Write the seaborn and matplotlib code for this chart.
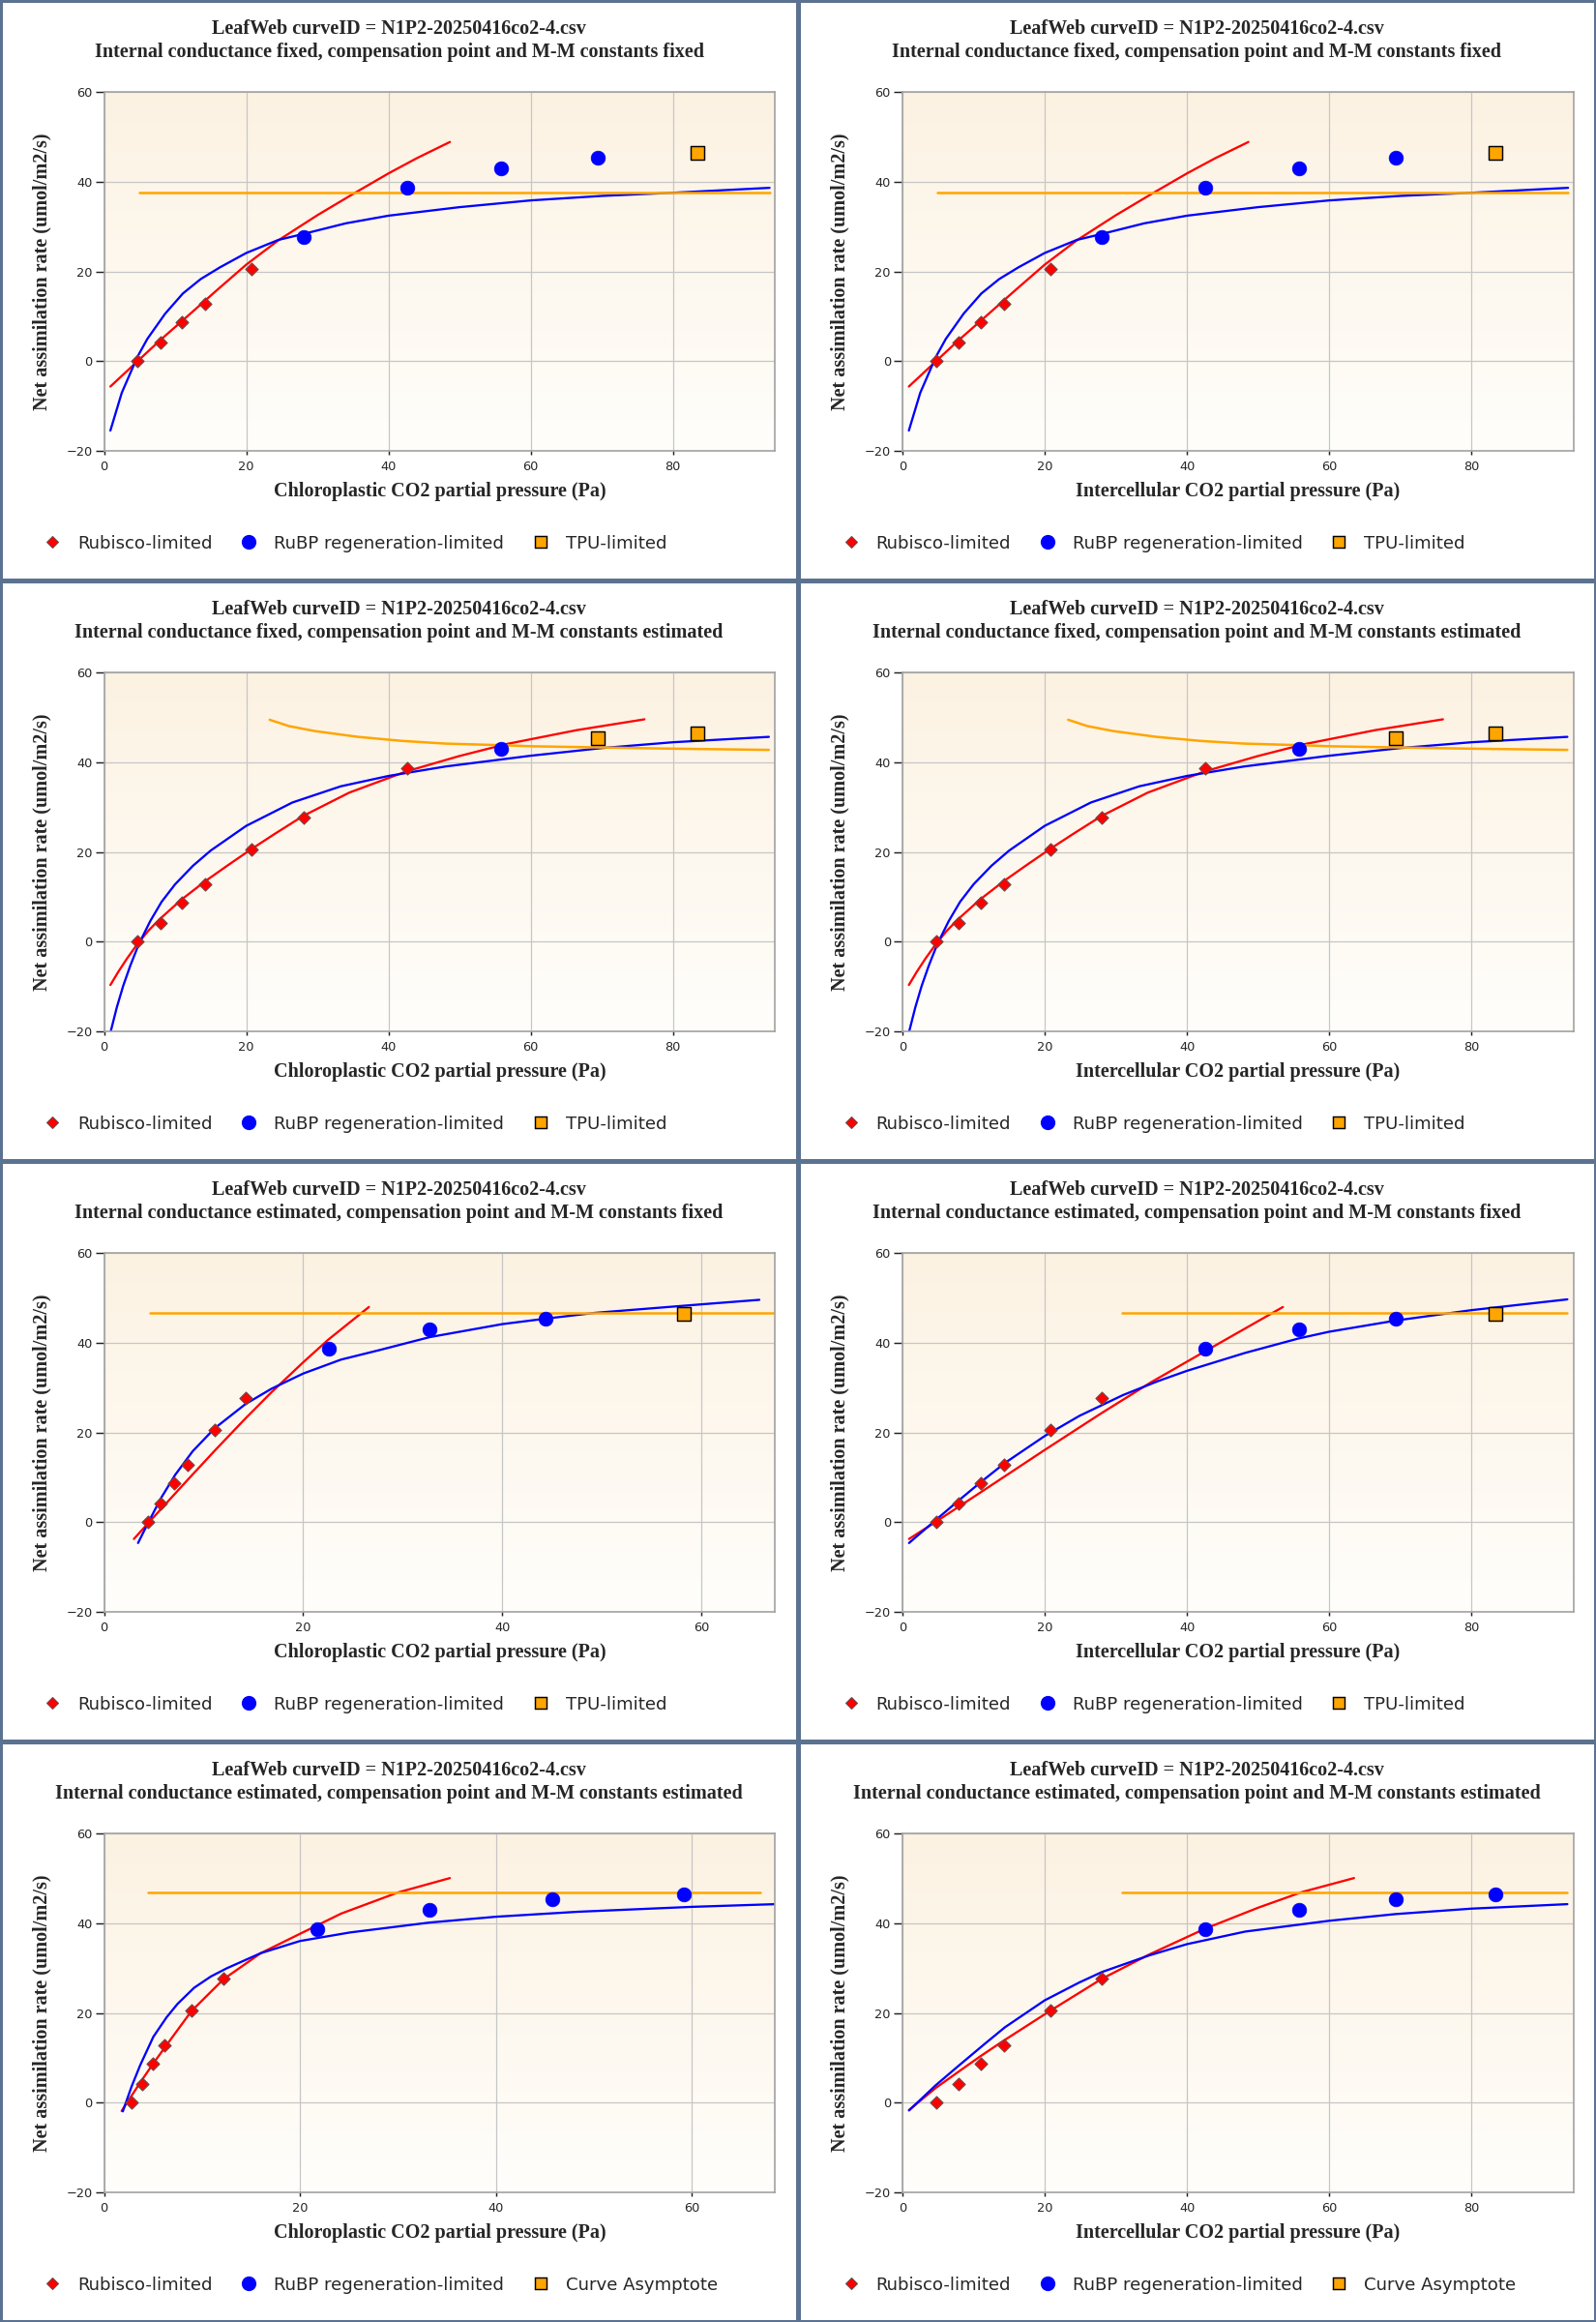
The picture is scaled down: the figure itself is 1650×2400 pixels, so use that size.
import numpy as np
import matplotlib
matplotlib.use("Agg")
import matplotlib.pyplot as plt
from matplotlib.lines import Line2D
from matplotlib.colors import LinearSegmentedColormap
import seaborn as sns

# measured points (same A for every panel, x differs with the fit)
a_obs = [0.0, 4.2, 8.65, 12.8, 20.6, 27.7, 38.6, 42.9, 45.3, 46.3]
ci_obs = [4.7, 7.9, 10.95, 14.25, 20.8, 28.05, 42.6, 55.8, 69.4, 83.4]
cc_gm_est = [4.39, 5.7, 7.07, 8.38, 11.1, 14.2, 22.6, 32.7, 44.3, 58.25]
cc_all_est = [2.85, 3.88, 4.95, 6.2, 8.92, 12.2, 21.8, 33.2, 45.7, 59.2]

# fitted curves
# gi fixed, Gamma*/M-M fixed (Cc and Ci panels are identical)
rub1_x = [0.9, 4.7, 7.9, 12, 16, 20, 24.5, 30, 35.2, 40, 44, 48.65]
rub1_y = [-5.6, 0, 4.7, 10.4, 16.0, 21.5, 26.9, 32.5, 37.4, 41.8, 45.2, 48.8]
rubp1_x = [0.9, 2.5, 4.7, 6.1, 8.6, 11.1, 13.6, 16.3, 20, 24.5, 28.2, 34, 40, 50, 60, 70, 80, 93.6]
rubp1_y = [-15.4, -7.0, 1.0, 5.0, 10.6, 15.1, 18.3, 20.9, 24.1, 27.0, 28.4, 30.7, 32.4, 34.3, 35.8, 36.8, 37.5, 38.6]
tpu1_x = [4.9, 93.6]
tpu1_y = [37.5, 37.5]

# gi fixed, Gamma*/M-M estimated
rub3_x = [0.9, 2.0, 3.2, 4.6, 6.2, 7.8, 10.9, 14.25, 17.3, 20.7, 24, 28.0, 34.5, 42.5, 49.9, 56.6, 66.5, 76.0]
rub3_y = [-9.6, -6.7, -3.8, -0.7, 2.4, 5.0, 9.4, 13.5, 16.9, 20.6, 24.0, 28.0, 33.2, 37.9, 41.3, 44.0, 47.1, 49.5]
rubp3_x = [0.92, 1.8, 2.7, 3.7, 4.9, 6.5, 8.1, 10, 12.5, 15, 20, 26.5, 33.3, 40, 48, 60, 70, 80, 93.5]
rubp3_y = [-20.1, -14.6, -9.8, -5.3, -0.5, 4.6, 8.9, 12.8, 16.9, 20.3, 25.8, 31.0, 34.6, 36.9, 39.0, 41.4, 43.1, 44.4, 45.6]
tpu3_x = [23.3, 26.0, 29.6, 35.7, 41.9, 48.0, 55.8, 60.3, 69.5, 78.7, 93.5]
tpu3_y = [49.4, 48.0, 46.9, 45.6, 44.7, 44.1, 43.75, 43.5, 43.25, 43.0, 42.7]

# gi estimated, Gamma*/M-M fixed, chloroplastic
rub5_x = [3.0, 4.39, 5.7, 8.38, 11.1, 14.2, 16.8, 20.0, 22.5, 26.6]
rub5_y = [-3.7, -0.3, 2.9, 9.4, 15.9, 23.1, 28.9, 35.6, 40.6, 47.9]
rubp5_x = [3.42, 4.39, 5.7, 7.16, 8.9, 11.1, 14.2, 16.8, 20.0, 23.8, 27.8, 32.7, 40.0, 44.3, 49.3, 60, 65.8]
rubp5_y = [-4.6, -0.3, 5.3, 10.6, 15.8, 20.9, 26.3, 29.7, 33.1, 36.2, 38.4, 41.2, 44.1, 45.3, 46.6, 48.5, 49.5]
tpu5_x = [4.6, 67.4]
tpu5_y = [46.6, 46.6]

# gi estimated, Gamma*/M-M fixed, intercellular
rub6_x = [0.92, 4.67, 11.4, 20, 28, 35, 42.5, 53.5]
rub6_y = [-3.7, 0.1, 7.1, 16.1, 24.3, 31.2, 38.0, 47.9]
rubp6_x = [0.92, 4.67, 7.86, 10.9, 14.4, 20, 24.9, 31, 35.9, 40, 48.2, 55.7, 60, 69.4, 80, 93.5]
rubp6_y = [-4.6, 0.5, 4.8, 8.8, 13.2, 19.2, 23.7, 28.3, 31.4, 33.7, 37.7, 40.9, 42.4, 44.9, 47.2, 49.6]
tpu6_x = [30.9, 93.5]
tpu6_y = [46.6, 46.6]

# gi estimated, Gamma*/M-M estimated, chloroplastic
rub7_x = [1.8, 2.85, 3.88, 4.95, 6.2, 8.92, 12.2, 16.0, 20, 24.2, 30, 35.3]
rub7_y = [-1.8, 1.7, 5.1, 8.5, 12.3, 20.4, 27.5, 33.3, 37.6, 42.1, 46.8, 50.0]
rubp7_x = [1.92, 2.81, 3.7, 5.04, 6.38, 7.5, 9.2, 10.9, 12.5, 16.0, 20, 25.1, 33.2, 40, 48.3, 60, 68.5]
rubp7_y = [-1.9, 3.6, 8.4, 14.7, 19.0, 22.0, 25.6, 28.1, 29.9, 33.3, 36.0, 37.9, 40.1, 41.4, 42.5, 43.6, 44.2]
tpu7_x = [4.46, 67.0]
tpu7_y = [46.7, 46.7]

# gi estimated, Gamma*/M-M estimated, intercellular
rub8_x = [0.92, 4.67, 7.86, 10.9, 14.2, 20.7, 28.05, 34.7, 42.5, 50, 56.2, 63.5]
rub8_y = [-1.6, 3.3, 6.9, 10.3, 13.8, 20.4, 27.6, 33.0, 38.7, 43.4, 46.9, 50.0]
rubp8_x = [0.92, 4.67, 7.86, 11.4, 14.4, 20, 24.9, 28.05, 34.7, 40, 48.2, 60, 69.4, 80, 93.5]
rubp8_y = [-1.7, 3.9, 8.2, 12.9, 16.8, 22.8, 26.8, 29.1, 32.8, 35.3, 38.1, 40.5, 42.0, 43.2, 44.2]
tpu8_x = [30.9, 93.5]
tpu8_y = [46.7, 46.7]

title_top = "LeafWeb curveID = N1P2-20250416co2-4.csv"
subtitles = [
    "Internal conductance fixed, compensation point and M-M constants fixed",
    "Internal conductance fixed, compensation point and M-M constants estimated",
    "Internal conductance estimated, compensation point and M-M constants fixed",
    "Internal conductance estimated, compensation point and M-M constants estimated",
]
xlab_cc = "Chloroplastic CO2 partial pressure (Pa)"
xlab_ci = "Intercellular CO2 partial pressure (Pa)"
ylab = "Net assimilation rate (umol/m2/s)"

panels = [
    dict(x=ci_obs, split=(5, 4, 1), rub=(rub1_x, rub1_y), rubp=(rubp1_x, rubp1_y), tpu=(tpu1_x, tpu1_y), xmax=94.4, third="TPU-limited"),
    dict(x=ci_obs, split=(5, 4, 1), rub=(rub1_x, rub1_y), rubp=(rubp1_x, rubp1_y), tpu=(tpu1_x, tpu1_y), xmax=94.4, third="TPU-limited"),
    dict(x=ci_obs, split=(7, 1, 2), rub=(rub3_x, rub3_y), rubp=(rubp3_x, rubp3_y), tpu=(tpu3_x, tpu3_y), xmax=94.4, third="TPU-limited"),
    dict(x=ci_obs, split=(7, 1, 2), rub=(rub3_x, rub3_y), rubp=(rubp3_x, rubp3_y), tpu=(tpu3_x, tpu3_y), xmax=94.4, third="TPU-limited"),
    dict(x=cc_gm_est, split=(6, 3, 1), rub=(rub5_x, rub5_y), rubp=(rubp5_x, rubp5_y), tpu=(tpu5_x, tpu5_y), xmax=67.4, third="TPU-limited"),
    dict(x=ci_obs, split=(6, 3, 1), rub=(rub6_x, rub6_y), rubp=(rubp6_x, rubp6_y), tpu=(tpu6_x, tpu6_y), xmax=94.4, third="TPU-limited"),
    dict(x=cc_all_est, split=(6, 4, 0), rub=(rub7_x, rub7_y), rubp=(rubp7_x, rubp7_y), tpu=(tpu7_x, tpu7_y), xmax=68.5, third="Curve Asymptote"),
    dict(x=ci_obs, split=(6, 4, 0), rub=(rub8_x, rub8_y), rubp=(rubp8_x, rubp8_y), tpu=(tpu8_x, tpu8_y), xmax=94.4, third="Curve Asymptote"),
]

sns.set_style("ticks")
plt.rcParams["font.family"] = ["DejaVu Sans"]

W, H = 1650, 2400
fig = plt.figure(figsize=(11, 16), dpi=150)
fig.patch.set_facecolor("white")

serif = "Liberation Serif"
border = "#5b7290"
grid_c = "#c6c6c6"
bg_cmap = LinearSegmentedColormap.from_list("bg", ["#fffefb", "#fcf2e2"])
grad = np.linspace(1, 0, 256).reshape(-1, 1)

ax_left = [107.5, 933.0]
ax_w, ax_h = 694.0, 371.7

for i, p in enumerate(panels):
    row, col = divmod(i, 2)
    top = row * 600 + 94.7
    ax = fig.add_axes([ax_left[col] / W, 1 - (top + ax_h) / H, ax_w / W, ax_h / H])

    ax.imshow(grad, cmap=bg_cmap, aspect="auto", extent=(0, 1, 0, 1),
              transform=ax.transAxes, zorder=0, vmin=0, vmax=1)

    n1, n2, n3 = p["split"]
    xs = p["x"]
    sns.lineplot(x=p["rub"][0], y=p["rub"][1], ax=ax, color="red", linewidth=1.1,
                 estimator=None, sort=False, zorder=2)
    sns.lineplot(x=p["rubp"][0], y=p["rubp"][1], ax=ax, color="blue", linewidth=1.1,
                 estimator=None, sort=False, zorder=2)
    sns.lineplot(x=p["tpu"][0], y=p["tpu"][1], ax=ax, color="orange", linewidth=1.2,
                 estimator=None, sort=False, zorder=2)

    sns.scatterplot(x=xs[:n1], y=a_obs[:n1], ax=ax, marker="D", s=20, color="red",
                    edgecolor="#6a4a4a", linewidth=0.5, zorder=4)
    sns.scatterplot(x=xs[n1:n1 + n2], y=a_obs[n1:n1 + n2], ax=ax, marker="o", s=50,
                    color="blue", edgecolor="blue", linewidth=0.3, zorder=4)
    if n3:
        sns.scatterplot(x=xs[n1 + n2:n1 + n2 + n3], y=a_obs[n1 + n2:n1 + n2 + n3], ax=ax,
                        marker="s", s=44, color="orange", edgecolor="black", linewidth=0.7, zorder=4)

    ax.set_xlim(0, p["xmax"])
    ax.set_ylim(-20, 60)
    ax.set_xticks([t for t in [0, 20, 40, 60, 80] if t < p["xmax"]])
    ax.set_yticks([-20, 0, 20, 40, 60])
    ax.grid(True, color=grid_c, linewidth=0.6)
    ax.set_axisbelow(True)
    for s in ax.spines.values():
        s.set_color("#a2a2a2")
        s.set_linewidth(0.8)
    ax.tick_params(axis="y", length=4.3, width=0.7, color="#222222", pad=1.5, labelsize=6.2)
    ax.tick_params(axis="x", length=2.0, width=0.7, color="#222222", pad=2.5, labelsize=6.2)

    ax.set_xlabel(xlab_cc if col == 0 else xlab_ci, family=serif, weight="bold",
                  fontsize=9.7, va="center")
    ax.xaxis.set_label_coords(0.5, (466.4 - 507.7) / ax_h)
    ax.set_ylabel(ylab, family=serif, weight="bold", fontsize=9.7, va="center")
    ax.yaxis.set_label_coords((43 - 107.5) / ax_w, 0.5)

    cx = (col * 825 + 412.5) / W
    fig.text(cx, 1 - (row * 600 + 30) / H, title_top, family=serif, weight="bold",
             fontsize=9.7, ha="center", va="center")
    fig.text(cx, 1 - (row * 600 + 54) / H, subtitles[row], family=serif, weight="bold",
             fontsize=9.7, ha="center", va="center")

    handles = [
        Line2D([], [], ls="none", marker="D", markersize=4.4, color="red",
               markeredgecolor="#6a4a4a", markeredgewidth=0.5),
        Line2D([], [], ls="none", marker="o", markersize=6.3, color="blue"),
        Line2D([], [], ls="none", marker="s", markersize=5.6, color="orange",
               markeredgecolor="black", markeredgewidth=0.7),
    ]
    ax.legend(handles, ["Rubisco-limited", "RuBP regeneration-limited", p["third"]],
              ncol=3, loc="center left", bbox_to_anchor=((45 - 107.5) / ax_w, -95.3 / ax_h),
              frameon=False, fontsize=8.7, handlelength=1.0, handletextpad=0.93,
              columnspacing=1.58, borderpad=0, borderaxespad=0)

# panel frames
for xp in [825]:
    fig.add_artist(Line2D([xp / W, xp / W], [0, 1], color=border, linewidth=2.4))
for yp in [600, 1200, 1800]:
    fig.add_artist(Line2D([0, 1], [1 - yp / H, 1 - yp / H], color=border, linewidth=2.4))
fig.add_artist(Line2D([0, 1, 1, 0, 0], [0, 0, 1, 1, 0], color=border, linewidth=2.4))

fig.savefig("out.png", dpi=150, facecolor="white")
